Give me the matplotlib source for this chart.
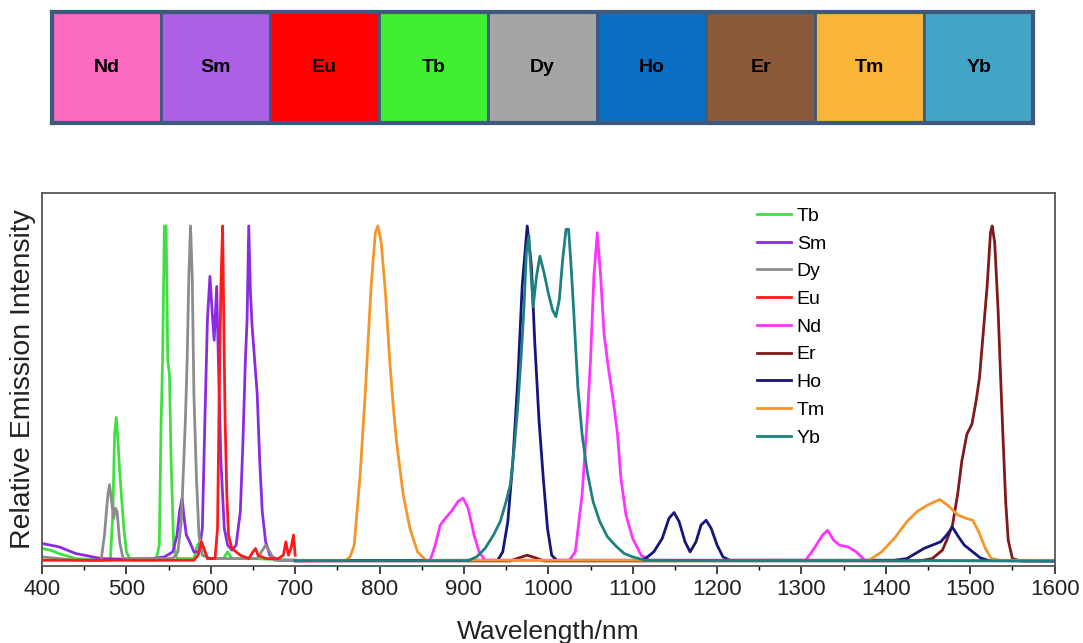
import matplotlib
matplotlib.use("Agg")
import matplotlib.pyplot as plt
from matplotlib.ticker import MultipleLocator

plt.rcParams['font.family'] = ['Liberation Sans', 'DejaVu Sans']

# ---- top colour strip ----
strip_labels = ["Nd", "Sm", "Eu", "Tb", "Dy", "Ho", "Er", "Tm", "Yb"]
strip_colors = ["#fd6ac2", "#ad5fe6", "#fe0000", "#40f030", "#a5a5a5",
                "#0a6fc2", "#8a5a3a", "#f8b53a", "#43a5c5"]

# ---- emission spectra (wavelength nm, relative intensity) ----
tb_wl = [400, 410, 420, 440, 470, 481, 484, 486, 488, 490, 492, 494, 497, 500, 505,
         535, 539, 541, 543, 545, 547, 549, 551, 553, 556, 560, 580, 584, 588, 592,
         596, 615, 620, 625, 650, 700]
tb_int = [0.04, 0.035, 0.025, 0.01, 0.005, 0.005, 0.15, 0.38, 0.43, 0.36, 0.27, 0.2, 0.1, 0.03, 0.005,
          0.005, 0.05, 0.4, 0.62, 1.0, 1.0, 0.6, 0.56, 0.3, 0.05, 0.01, 0.01, 0.05, 0.06, 0.04,
          0.01, 0.01, 0.03, 0.01, 0.01, 0.005]

sm_wl = [400, 410, 420, 430, 440, 450, 460, 470, 500, 530, 545, 555, 560, 563, 566, 568,
         571, 575, 580, 586, 590, 593, 596, 599, 602, 604, 607, 609, 612, 616, 620, 625,
         630, 635, 638, 641, 643, 645, 647, 649, 652, 655, 658, 661, 665, 670, 680, 700]
sm_int = [0.055, 0.05, 0.045, 0.035, 0.025, 0.02, 0.015, 0.01, 0.008, 0.01, 0.015, 0.03, 0.08, 0.15, 0.19, 0.14,
          0.08, 0.06, 0.03, 0.03, 0.1, 0.42, 0.72, 0.85, 0.73, 0.66, 0.82, 0.6, 0.3, 0.1, 0.05, 0.035,
          0.05, 0.15, 0.35, 0.6, 0.72, 1.0, 0.8, 0.7, 0.6, 0.5, 0.3, 0.15, 0.06, 0.02, 0.005, 0.005]

dy_wl = [400, 420, 440, 470, 474, 478, 480, 483, 485, 487, 489, 492, 496, 555, 561, 565,
         568, 570, 572, 574, 576, 578, 580, 583, 586, 590, 600, 655, 660, 665, 670, 675, 700]
dy_int = [0.015, 0.01, 0.005, 0.005, 0.08, 0.2, 0.23, 0.17, 0.13, 0.16, 0.15, 0.06, 0.01, 0.01, 0.03, 0.12,
          0.3, 0.43, 0.6, 0.85, 1.0, 0.85, 0.5, 0.25, 0.08, 0.02, 0.01, 0.01, 0.03, 0.05, 0.03, 0.005, 0.005]

eu_wl = [400, 580, 585, 589, 592, 596, 605, 608, 610, 612, 614, 616, 617, 619, 621, 625,
         635, 645, 650, 653, 656, 665, 680, 686, 689, 692, 695, 698, 700]
eu_int = [0.005, 0.005, 0.02, 0.06, 0.04, 0.01, 0.01, 0.1, 0.5, 0.82, 1.0, 0.6, 0.42, 0.2, 0.08, 0.04,
          0.02, 0.01, 0.03, 0.04, 0.02, 0.01, 0.01, 0.02, 0.06, 0.02, 0.04, 0.08, 0.02]

nd_wl = [700, 860, 866, 872, 878, 885, 893, 899, 905, 912, 918, 925, 1025, 1032, 1040, 1046,
         1050, 1054, 1058, 1062, 1066, 1071, 1077, 1082, 1086, 1092, 1100, 1110, 1120, 1305,
         1315, 1325, 1331, 1338, 1345, 1355, 1365, 1375, 1600]
nd_int = [0.003, 0.005, 0.05, 0.11, 0.13, 0.15, 0.18, 0.19, 0.16, 0.08, 0.03, 0.005, 0.005, 0.03, 0.2, 0.42,
          0.6, 0.85, 0.98, 0.85, 0.68, 0.58, 0.48, 0.38, 0.25, 0.14, 0.07, 0.02, 0.005, 0.005,
          0.04, 0.08, 0.094, 0.065, 0.05, 0.045, 0.03, 0.005, 0.003]

er_wl = [700, 955, 965, 975, 985, 995, 1440, 1455, 1467, 1473, 1479, 1485, 1490, 1496, 1502,
         1507, 1511, 1516, 1520, 1524, 1526, 1529, 1533, 1536, 1539, 1542, 1545, 1550, 1560, 1600]
er_int = [0.003, 0.003, 0.012, 0.02, 0.012, 0.003, 0.003, 0.01, 0.035, 0.07, 0.11, 0.2, 0.3, 0.38, 0.41,
          0.48, 0.55, 0.7, 0.82, 0.98, 1.0, 0.95, 0.75, 0.55, 0.36, 0.18, 0.065, 0.01, 0.003, 0.003]

ho_wl = [700, 940, 946, 952, 958, 964, 969, 975, 980, 984, 989, 994, 999, 1004, 1010, 1105,
         1115, 1125, 1135, 1143, 1149, 1155, 1162, 1168, 1175, 1181, 1187, 1193, 1200, 1207,
         1215, 1410, 1425, 1435, 1445, 1455, 1465, 1472, 1479, 1486, 1493, 1503, 1512, 1522, 1600]
ho_int = [0.004, 0.005, 0.03, 0.12, 0.3, 0.55, 0.82, 1.0, 0.88, 0.65, 0.42, 0.25, 0.1, 0.02, 0.005, 0.005,
          0.01, 0.03, 0.07, 0.13, 0.147, 0.12, 0.06, 0.03, 0.06, 0.11, 0.124, 0.1, 0.05, 0.015,
          0.005, 0.005, 0.01, 0.025, 0.04, 0.05, 0.06, 0.08, 0.103, 0.075, 0.05, 0.03, 0.012, 0.004, 0.003]

tm_wl = [700, 760, 765, 770, 777, 783, 790, 795, 798, 802, 807, 812, 816, 820, 828, 836,
         845, 855, 1380, 1395, 1410, 1425, 1437, 1450, 1464, 1475, 1485, 1495, 1503, 1510,
         1518, 1525, 1535, 1600]
tm_int = [0.005, 0.005, 0.015, 0.05, 0.26, 0.5, 0.82, 0.98, 1.0, 0.95, 0.8, 0.6, 0.47, 0.36, 0.2, 0.1,
          0.03, 0.005, 0.005, 0.03, 0.07, 0.12, 0.15, 0.17, 0.186, 0.165, 0.14, 0.13, 0.124, 0.09,
          0.04, 0.01, 0.005, 0.005]

yb_wl = [700, 905, 915, 925, 935, 943, 950, 955, 960, 964, 968, 971, 974, 977, 979, 982,
         986, 990, 995, 1000, 1005, 1009, 1013, 1017, 1021, 1024, 1027, 1030, 1035, 1040,
         1046, 1053, 1061, 1070, 1081, 1090, 1100, 1115, 1600]
yb_int = [0.004, 0.004, 0.015, 0.04, 0.08, 0.12, 0.18, 0.23, 0.35, 0.47, 0.62, 0.75, 0.92, 0.97, 0.88, 0.76,
          0.85, 0.91, 0.86, 0.8, 0.75, 0.73, 0.78, 0.9, 0.99, 0.99, 0.88, 0.75, 0.52, 0.38,
          0.27, 0.18, 0.12, 0.075, 0.045, 0.025, 0.015, 0.005, 0.003]

series = [
    ("Tb", tb_wl, tb_int, "#3ee03e"),
    ("Sm", sm_wl, sm_int, "#8a2be2"),
    ("Dy", dy_wl, dy_int, "#8c8c8c"),
    ("Eu", eu_wl, eu_int, "#ff1a1a"),
    ("Nd", nd_wl, nd_int, "#ff33ff"),
    ("Er", er_wl, er_int, "#7f1a1a"),
    ("Ho", ho_wl, ho_int, "#16167a"),
    ("Tm", tm_wl, tm_int, "#f5962a"),
    ("Yb", yb_wl, yb_int, "#1f8080"),
]

fig = plt.figure(figsize=(10.83, 6.43), dpi=100)

# -------------------
# COLOUR STRIP
# -------------------
ax_top = fig.add_axes([0.048, 0.809, 0.906, 0.172])
pos = list(range(len(strip_labels)))
ax_top.bar(pos, 1, width=1, align='edge', color=strip_colors,
           edgecolor="#3d5a7d", linewidth=2)
for i, lab in enumerate(strip_labels):
    ax_top.text(i + 0.5, 0.5, lab, ha='center', va='center',
                fontsize=14, fontweight='bold', color='black')
ax_top.set_xlim(0, len(strip_labels))
ax_top.set_ylim(0, 1)
ax_top.set_xticks([])
ax_top.set_yticks([])
for s in ax_top.spines.values():
    s.set_color("#3d5a7d")
    s.set_linewidth(3)

# -------------------
# SPECTRA
# -------------------
ax = fig.add_axes([0.0388, 0.1198, 0.935, 0.580])
for name, wl, inten, col in series:
    ax.plot(wl, inten, color=col, linewidth=2.0, label=name)

ax.set_xlim(400, 1600)
ax.set_ylim(-0.012, 1.098)
ax.xaxis.set_major_locator(MultipleLocator(100))
ax.xaxis.set_minor_locator(MultipleLocator(50))
ax.tick_params(axis='x', which='major', direction='out', length=6, width=1.2,
               labelsize=16, colors='#222222')
ax.tick_params(axis='x', which='minor', direction='out', length=3, width=1)
ax.set_yticks([])
for s in ax.spines.values():
    s.set_color("#555555")
    s.set_linewidth(1.3)

ax.set_xlabel("Wavelength/nm", fontsize=19, color='#222222', labelpad=14)
ax.set_ylabel("Relative Emission Intensity", fontsize=20.5, color='#222222', labelpad=4)

ax.legend(loc='upper left', bbox_to_anchor=(0.706, 0.962), frameon=False,
          fontsize=14, handlelength=1.75, handletextpad=0.3, labelspacing=0.52,
          borderpad=0, borderaxespad=0)

fig.savefig("out.png", dpi=100)
